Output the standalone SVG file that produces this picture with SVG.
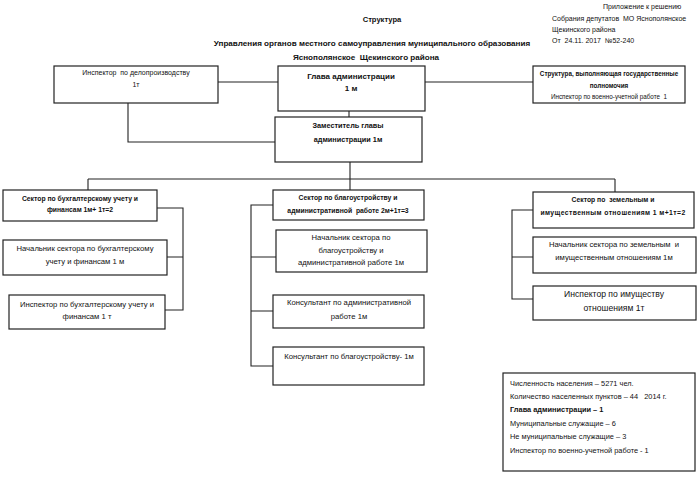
<svg xmlns="http://www.w3.org/2000/svg" width="700" height="486" viewBox="0 0 700 486">
<style>
text{font-family:"Liberation Sans",Arial,sans-serif;fill:#111;white-space:pre}
.box{fill:#fff;stroke:#222;stroke-width:1.2}
.ln{fill:none;stroke:#222;stroke-width:1.1}
.c{text-anchor:middle}
.b{font-weight:bold}
.hd{font-size:7px}
.ti{font-size:8.1px}
.sec{font-size:6.8px}
.ch{font-size:7.7px}
.st{font-size:7.4px}
.s6{font-size:6.3px}
.s7{font-size:7px}
.s8{font-size:8px}
</style>
<rect width="700" height="486" fill="#fff"/>
<g id="header">
<text x="382" y="22" class="c b" font-size="7.6">Структура</text>
<text x="603" y="9" class="hd" font-size="7.2">Приложение к решению</text>
<text x="552" y="21" class="hd">Собрания депутатов  МО Яснополянское</text>
<text x="552" y="32" class="hd">Щекинского района</text>
<text x="552" y="43" class="hd">От  24.11. 2017  №52-240</text>
<text x="372" y="46" class="c b ti">Управления органов местного самоуправления муниципального образования</text>
<text x="366" y="60" class="c b ti">Яснополянское  Щекинского района</text>
</g>
<g id="connectors">
<path class="ln" d="M218 82H278M425 82H533M128 103V142H275M349 111V117M350 162V179M88 179H615M88 179V190M350 179V190M615 179V192"/>
<path class="ln" d="M157 208H183V310H165M183 257H167"/>
<path class="ln" d="M273 205H251V366H273M251 257H276M251 311H273"/>
<path class="ln" d="M533 210H512V299H533M512 257H533"/>
</g>
<g id="n_inspector_delo">
<rect class="box" x="54" y="66" width="164" height="37"/>
<text x="136" y="75" class="c s7">Инспектор  по делопроизводству</text>
<text x="136" y="87" class="c s7">1т</text>
</g>
<g id="n_glava">
<rect class="box" x="278" y="66" width="147" height="45"/>
<text x="351" y="79" class="c b s8">Глава администрации</text>
<text x="351" y="91" class="c b s8">1 м</text>
</g>
<g id="n_gos">
<rect class="box" x="533" y="66" width="152" height="37"/>
<text x="609" y="76" class="c b s6">Структура, выполняющая государственные</text>
<text x="609" y="88" class="c b s6">полномочия</text>
<text x="609" y="99" class="c s6">Инспектор по военно-учетной работе  1</text>
</g>
<g id="n_zam">
<rect class="box" x="275" y="117" width="147" height="45"/>
<text x="348" y="128" class="c b" font-size="7.3">Заместитель главы</text>
<text x="348" y="142" class="c b" font-size="7.3">администрации 1м</text>
</g>
<g id="n_sector_buh">
<rect class="box" x="3" y="190" width="154" height="31"/>
<text x="80" y="201" class="c b sec">Сектор по бухгалтерскому учету и</text>
<text x="80" y="212" class="c b sec">финансам 1м+ 1т=2</text>
</g>
<g id="n_sector_blag">
<rect class="box" x="273" y="190" width="151" height="30"/>
<text x="348" y="200" class="c b sec">Сектор по благоустройству и</text>
<text x="348" y="213" class="c b sec">административной  работе 2м+1т=3</text>
</g>
<g id="n_sector_zem">
<rect class="box" x="533" y="192" width="161" height="36"/>
<text x="613" y="202" class="c b sec">Сектор по  земельным и</text>
<text x="613" y="215" class="c b sec" letter-spacing="0.4">имущественным отношениям 1 м+1т=2</text>
</g>
<g id="n_nach_buh">
<rect class="box" x="3" y="240" width="164" height="35"/>
<text x="85" y="251" class="c ch">Начальник сектора по бухгалтерскому</text>
<text x="85" y="264" class="c ch">учету и финансам 1 м</text>
</g>
<g id="n_insp_buh">
<rect class="box" x="9" y="295" width="156" height="34"/>
<text x="87" y="307" class="c ch">Инспектор по бухгалтерскому учету и</text>
<text x="87" y="319" class="c ch">финансам 1 т</text>
</g>
<g id="n_nach_blag">
<rect class="box" x="276" y="230" width="151" height="42"/>
<text x="351" y="240" class="c ch">Начальник сектора по</text>
<text x="351" y="253" class="c ch">благоустройству и</text>
<text x="351" y="265" class="c ch">административной работе 1м</text>
</g>
<g id="n_kons_adm">
<rect class="box" x="273" y="295" width="151" height="33"/>
<text x="349" y="305" class="c ch">Консультант по административной</text>
<text x="349" y="319" class="c ch">работе 1м</text>
</g>
<g id="n_kons_blag">
<rect class="box" x="273" y="347" width="151" height="38"/>
<text x="349" y="359" class="c ch">Консультант по благоустройству- 1м</text>
</g>
<g id="n_nach_zem">
<rect class="box" x="533" y="237" width="163" height="36"/>
<text x="614" y="247" class="c ch">Начальник сектора по земельным  и</text>
<text x="614" y="260" class="c ch">имущественным отношениям 1м</text>
</g>
<g id="n_insp_im">
<rect class="box" x="533" y="286" width="163" height="34"/>
<text x="614" y="297" class="c" font-size="8.6">Инспектор по имуществу</text>
<text x="614" y="311" class="c" font-size="8.6">отношениям 1т</text>
</g>
<g id="n_stats">
<rect class="box" x="503" y="373" width="192" height="98"/>
<text x="510" y="386" class="st">Численность населения – 5271 чел.</text>
<text x="510" y="399" class="st">Количество населенных пунктов – 44   2014 г.</text>
<text x="510" y="412" class="st b">Глава администрации – 1</text>
<text x="510" y="426" class="st">Муниципальные служащие – 6</text>
<text x="510" y="439" class="st">Не муниципальные служащие – 3</text>
<text x="510" y="453" class="st">Инспектор по военно-учетной работе - 1</text>
</g>
</svg>
